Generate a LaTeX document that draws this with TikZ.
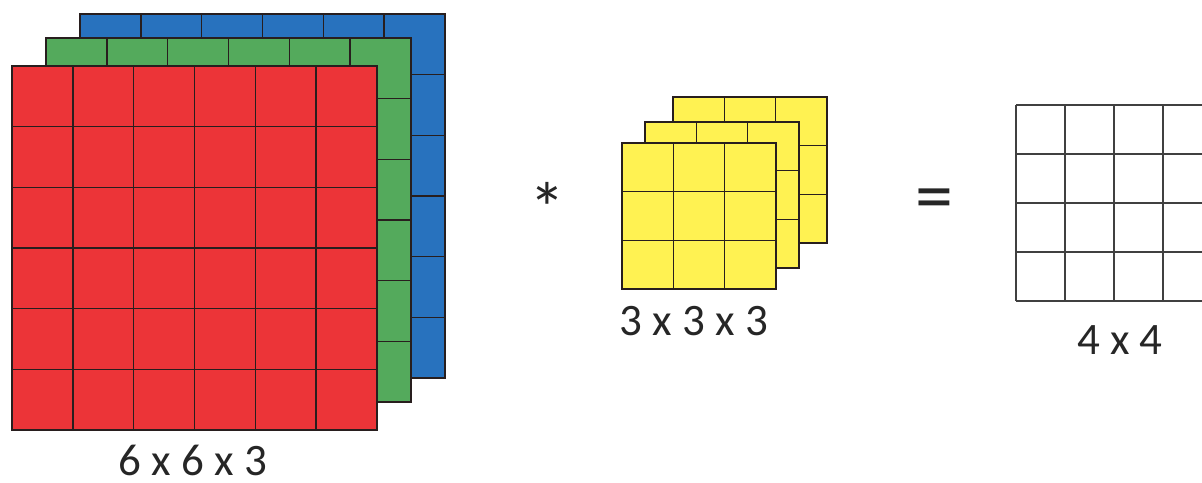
\documentclass[tikz,border=0pt]{standalone}
\usepackage{fontspec}
\setmainfont{Carlito}
\usetikzlibrary{calc}
\definecolor{cred}{RGB}{236,52,56}
\definecolor{cgreen}{RGB}{84,170,92}
\definecolor{cblue}{RGB}{40,114,190}
\definecolor{cyellow}{RGB}{255,242,82}
\definecolor{cline}{RGB}{40,30,30}
\tikzset{
  panel/.style={draw=cline, line width=1.5pt, rectangle, inner sep=0pt, outer sep=0pt, anchor=north west},
  gridline/.style={draw=cline, line width=1.5pt},
  outgrid/.style={draw=black!75, line width=1.3pt},
  lbl/.style={font=\fontsize{45}{50}\selectfont, text=black!85, inner sep=0pt},
  op/.style={font=\fontsize{72}{80}\selectfont, text=black!85, inner sep=0pt}
}
\begin{document}
\begin{tikzpicture}[x=1pt,y=-1pt]
\useasboundingbox (0,0) rectangle (1202,482);
% ---- input volume 6x6x3 ----
\foreach \col/\xo/\yo/\nm in {cblue/80/14/B, cgreen/46/38/G, cred/12/66/R}{
  \node[panel, fill=\col, minimum width=365pt, minimum height=364pt] (\nm) at (\xo,\yo) {};
  \foreach \i in {1,...,5}{
    \draw[gridline] ($(\nm.north west)!\i/6!(\nm.north east)$) -- ($(\nm.south west)!\i/6!(\nm.south east)$);
    \draw[gridline] ($(\nm.north west)!\i/6!(\nm.south west)$) -- ($(\nm.north east)!\i/6!(\nm.south east)$);
  }
  \node[panel, minimum width=365pt, minimum height=364pt] at (\xo,\yo) {};
}
\node[lbl] (inlbl) at (193,460) {6 x 6 x 3};
% ---- operator ----
\node[op, anchor=north] (star) at (547,182) {*};
% ---- filter 3x3x3 ----
\foreach \xo/\yo/\nm in {673/97/Y3, 645/122/Y2, 622/143/Y1}{
  \node[panel, fill=cyellow, minimum width=154pt, minimum height=146pt] (\nm) at (\xo,\yo) {};
  \foreach \i in {1,2}{
    \draw[gridline] ($(\nm.north west)!\i/3!(\nm.north east)$) -- ($(\nm.south west)!\i/3!(\nm.south east)$);
    \draw[gridline] ($(\nm.north west)!\i/3!(\nm.south west)$) -- ($(\nm.north east)!\i/3!(\nm.south east)$);
  }
  \node[panel, minimum width=154pt, minimum height=146pt] at (\xo,\yo) {};
}
\node[lbl] (flbl) at (694,321) {3 x 3 x 3};
% ---- equals ----
\node[op, font=\fontsize{76}{80}\selectfont] (eq) at (934,205) {=};
% ---- output 4x4 (cut off at the right edge) ----
\coordinate (O) at (1016,105);
\foreach \j in {0,...,4}{
  \draw[outgrid] ($(O)+(0,\j*49)$) -- ($(O)+(186,\j*49)$);
}
\foreach \i in {0,...,3}{
  \draw[outgrid] ($(O)+(\i*49,0)$) -- ($(O)+(\i*49,196)$);
}
\node[lbl] (olbl) at (1120,340) {4 x 4};
\end{tikzpicture}
\end{document}
